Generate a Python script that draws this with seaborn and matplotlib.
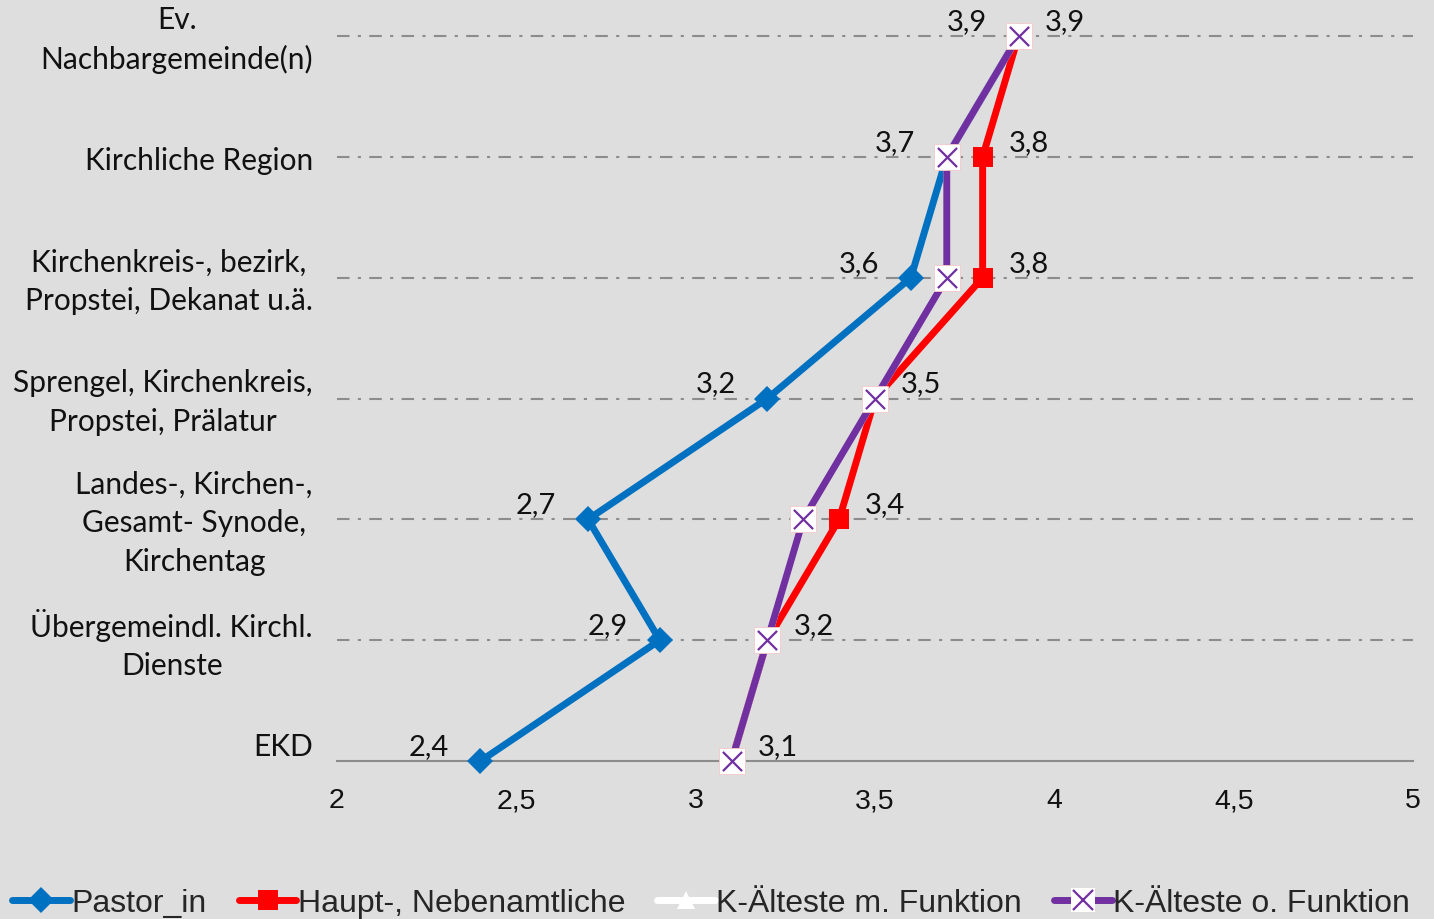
import pandas as pd
import matplotlib.pyplot as plt
import seaborn as sns
from matplotlib.lines import Line2D
from matplotlib.ticker import FuncFormatter

# Kategorien von oben nach unten
categories = [
    "Ev.\nNachbargemeinde(n)",
    "Kirchliche Region",
    "Kirchenkreis-, bezirk,\nPropstei, Dekanat u.ä.",
    "Sprengel, Kirchenkreis,\nPropstei, Prälatur",
    "Landes-, Kirchen-,\nGesamt- Synode,\nKirchentag",
    "Übergemeindl. Kirchl.\nDienste",
    "EKD",
]

pastor = [3.9, 3.7, 3.6, 3.2, 2.7, 2.9, 2.4]
haupt = [3.9, 3.8, 3.8, 3.5, 3.4, 3.2, 3.1]
aelteste_mit = [3.9, 3.7, 3.7, 3.5, 3.3, 3.2, 3.1]
aelteste_ohne = [3.9, 3.7, 3.7, 3.5, 3.3, 3.2, 3.1]

series_names = ["Pastor_in", "Haupt-, Nebenamtliche",
                "K-Älteste m. Funktion", "K-Älteste o. Funktion"]
x_ticks = [2, 2.5, 3, 3.5, 4, 4.5, 5]

BG = "#dedede"
BLUE = "#0070c0"
RED = "#ff0000"
PURPLE = "#7030a0"

sns.set_theme(style="white")
plt.rcParams["font.family"] = ["Lato", "DejaVu Sans"]

pos = list(range(len(categories) - 1, -1, -1))
df = pd.DataFrame({"cat": categories, "pos": pos,
                   "pastor": pastor, "haupt": haupt,
                   "mit": aelteste_mit, "ohne": aelteste_ohne})

fig = plt.figure(figsize=(14.34, 9.2), dpi=100, facecolor=BG)
ax = fig.add_axes([0.235, 0.1717, 0.7504, 0.7881])
ax.set_facecolor(BG)

# Gitterlinien strichpunktiert
for p in pos[:-1]:
    ax.axhline(p, color="#8c8c8c", lw=1.5, ls=(0, (6, 4, 1.5, 4)), zorder=0)

lw = 5.0
sns.lineplot(data=df, x="pastor", y="pos", orient="y", color=BLUE, lw=lw,
             marker="D", markersize=13, markeredgewidth=0, ax=ax, zorder=3)
sns.lineplot(data=df, x="haupt", y="pos", orient="y", color=RED, lw=lw,
             marker="s", markersize=14, markeredgewidth=0, ax=ax, zorder=4)
sns.lineplot(data=df, x="mit", y="pos", orient="y", color="white", lw=lw,
             marker="^", markersize=13, markeredgewidth=0, ax=ax, zorder=5)
sns.lineplot(data=df, x="ohne", y="pos", orient="y", color=PURPLE, lw=lw,
             ax=ax, zorder=6)
sns.scatterplot(data=df, x="ohne", y="pos", marker="s", s=330, color="white",
                edgecolor="#f4c8c8", linewidth=0.6, ax=ax, zorder=7)
sns.scatterplot(data=df, x="ohne", y="pos", marker="x", s=190, color=PURPLE,
                linewidth=1.6, ax=ax, zorder=8)

# Datenbeschriftungen
def fmt(v):
    return f"{v:.1f}".replace(".", ",")

for p, a, b in zip(pos, pastor, haupt):
    ax.annotate(fmt(a), (a, p), xytext=(-52, 15), textcoords="offset pixels",
                ha="center", va="center", fontsize=21, color="#111111",
                annotation_clip=False)
    ax.annotate(fmt(b), (b, p), xytext=(46, 15), textcoords="offset pixels",
                ha="center", va="center", fontsize=21, color="#111111",
                annotation_clip=False)

ax.set_xlim(2, 5)
ax.set_ylim(0, len(categories) - 1)
ax.set_xticks(x_ticks)
ax.xaxis.set_major_formatter(FuncFormatter(lambda v, _: f"{v:g}".replace(".", ",")))
ax.set_yticks(pos)
ax.set_yticklabels([])

# Kategorienbeschriftung (EKD sitzt im Original etwas hoeher)
for cat, p in zip(categories, pos):
    dy = 15 if cat == "EKD" else -3
    ax.annotate(cat, xy=(0, p), xycoords=ax.get_yaxis_transform(),
                xytext=(-24, dy), textcoords="offset pixels",
                ha="right", va="center", multialignment="center",
                fontsize=21.5, color="#111111", linespacing=1.45,
                annotation_clip=False)

for lab in ax.get_xticklabels():
    lab.set_fontfamily(["Liberation Sans", "DejaVu Sans"])
    lab.set_fontsize(20.5)
    lab.set_color("#111111")
ax.tick_params(axis="x", length=0, pad=19)
ax.tick_params(axis="y", length=0)
ax.set_xlabel("")
ax.set_ylabel("")
for s in ["top", "right", "left"]:
    ax.spines[s].set_visible(False)
ax.spines["bottom"].set_color("#8c8c8c")
ax.spines["bottom"].set_linewidth(1.5)
for c in ax.get_children():
    try:
        c.set_clip_on(False)
    except Exception:
        pass

handles = [
    Line2D([], [], color=BLUE, lw=lw, marker="D", markersize=13, markeredgewidth=0),
    Line2D([], [], color=RED, lw=lw, marker="s", markersize=14, markeredgewidth=0),
    Line2D([], [], color="white", lw=lw, marker="^", markersize=13, markeredgewidth=0),
    (Line2D([], [], color=PURPLE, lw=lw, marker="s", markersize=17,
            markerfacecolor="white", markeredgewidth=0),
     Line2D([], [], color=PURPLE, lw=0, marker="x", markersize=14, markeredgewidth=1.6)),
]
fig.legend(handles, series_names, loc="lower center", bbox_to_anchor=(0.496, -0.03),
           ncol=4, frameon=False, handlelength=1.8, handletextpad=0.05,
           columnspacing=1.0, prop={"family": "Liberation Sans", "size": 23})

fig.savefig("out.png", dpi=100, facecolor=BG)
